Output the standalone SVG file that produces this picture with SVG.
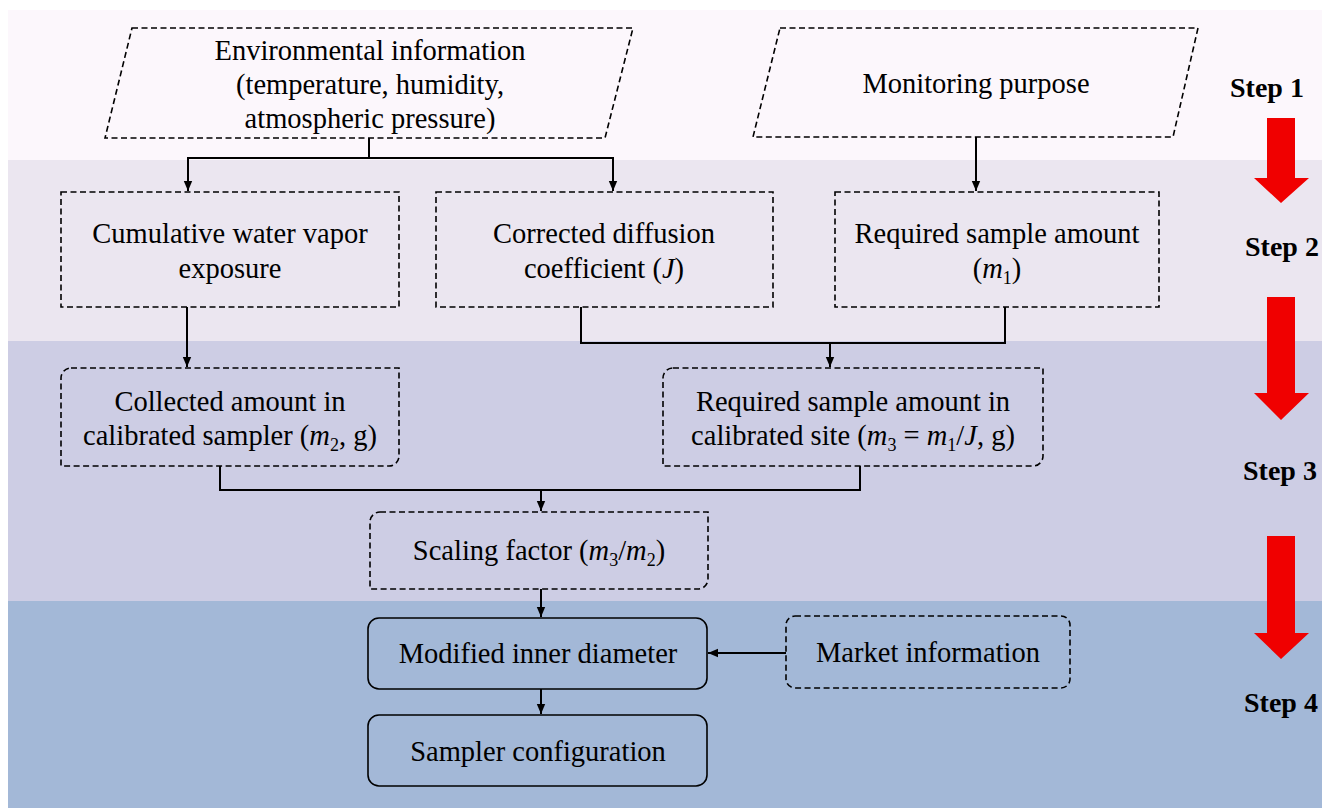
<svg xmlns="http://www.w3.org/2000/svg" width="1322" height="808" viewBox="0 0 1322 808">
<defs>
<marker id="ah" markerUnits="userSpaceOnUse" markerWidth="10" markerHeight="10" refX="10" refY="5" orient="auto">
<path d="M0,0.8 L10,5 L0,9.2 Z" fill="#000"/>
</marker>
<style>
.t{font-family:"Liberation Serif","Times New Roman",serif;font-size:28.5px;fill:#000;text-anchor:middle}
.st{font-family:"Liberation Serif","Times New Roman",serif;font-size:28px;font-weight:bold;fill:#000}
.d{fill:none;stroke:#000;stroke-width:1.6;stroke-dasharray:6 3.5}
.s{fill:none;stroke:#000;stroke-width:1.6}
.c{fill:none;stroke:#000;stroke-width:2}
.ca{fill:none;stroke:#000;stroke-width:2;marker-end:url(#ah)}
.i{font-style:italic}
.red{fill:#F00000}
</style>
</defs>
<rect width="1322" height="808" fill="#fff"/>
<g id="bands">
<rect x="8" y="10" width="1314" height="150" fill="#FCF7FC"/>
<rect x="8" y="160" width="1314" height="181" fill="#EBE6F0"/>
<rect x="8" y="341" width="1314" height="260" fill="#CDCDE4"/>
<rect x="8" y="601" width="1314" height="207" fill="#A3B8D7"/>
</g>
<g id="connectors">
<path class="c" d="M369,138 V158 M188,158 H613"/>
<path class="ca" d="M188,157 V191"/>
<path class="ca" d="M613,157 V191"/>
<path class="ca" d="M976,137 V191"/>
<path class="ca" d="M187,307 V367"/>
<path class="c" d="M581,307 V343 H1005 V307"/>
<path class="ca" d="M830,343 V367"/>
<path class="c" d="M220,466 V490 H860 V466"/>
<path class="ca" d="M541,490 V511"/>
<path class="ca" d="M541,589 V617"/>
<path class="ca" d="M786,653 H708"/>
<path class="ca" d="M541,689 V714"/>
</g>
<g id="env">
<path class="d" d="M132,28 L633,28 L605,138 L105,138 Z"/>
<text class="t" x="370" y="60">Environmental information</text>
<text class="t" x="370" y="94">(temperature, humidity,</text>
<text class="t" x="370" y="128">atmospheric pressure)</text>
</g>
<g id="purpose">
<path class="d" d="M780,28 L1198,28 L1173,137 L753,137 Z"/>
<text class="t" x="976" y="93">Monitoring purpose</text>
</g>
<g id="cumulative">
<rect class="d" x="61" y="192" width="338" height="115"/>
<text class="t" x="230" y="243">Cumulative water vapor</text>
<text class="t" x="230" y="278">exposure</text>
</g>
<g id="corrected">
<rect class="d" x="436" y="192" width="337" height="115"/>
<text class="t" x="604" y="243">Corrected diffusion</text>
<text class="t" x="604" y="278">coefficient (<tspan class="i">J</tspan>)</text>
</g>
<g id="required">
<rect class="d" x="835" y="192" width="324" height="115"/>
<text class="t" x="997" y="243">Required sample amount</text>
<text class="t" x="997" y="278">(<tspan class="i">m</tspan><tspan font-size="18" dy="6">1</tspan><tspan dy="-6">)</tspan></text>
</g>
<g id="collected">
<path class="d" d="M71,368 H399 V456 A10,10 0 0 1 389,466 H61 V378 A10,10 0 0 1 71,368 Z"/>
<text class="t" x="230" y="411">Collected amount in</text>
<text class="t" x="230" y="445">calibrated sampler (<tspan class="i">m</tspan><tspan font-size="18" dy="6">2</tspan><tspan dy="-6">, g)</tspan></text>
</g>
<g id="required-site">
<path class="d" d="M673,368 H1043 V456 A10,10 0 0 1 1033,466 H663 V378 A10,10 0 0 1 673,368 Z"/>
<text class="t" x="853" y="411">Required sample amount in</text>
<text class="t" x="853" y="445">calibrated site (<tspan class="i">m</tspan><tspan font-size="18" dy="6">3</tspan><tspan dy="-6"> = </tspan><tspan class="i">m</tspan><tspan font-size="18" dy="6">1</tspan><tspan dy="-6">/</tspan><tspan class="i">J</tspan>, g)</text>
</g>
<g id="scaling">
<path class="d" d="M380,512 H708 V579 A10,10 0 0 1 698,589 H370 V522 A10,10 0 0 1 380,512 Z"/>
<text class="t" x="539" y="560">Scaling factor (<tspan class="i">m</tspan><tspan font-size="18" dy="6">3</tspan><tspan dy="-6">/</tspan><tspan class="i">m</tspan><tspan font-size="18" dy="6">2</tspan><tspan dy="-6">)</tspan></text>
</g>
<g id="modified">
<rect class="s" x="368" y="618" width="339" height="71" rx="11"/>
<text class="t" x="538" y="663">Modified inner diameter</text>
</g>
<g id="market">
<rect class="d" x="786" y="616" width="284" height="72" rx="9"/>
<text class="t" x="928" y="662">Market information</text>
</g>
<g id="sampler">
<rect class="s" x="368" y="715" width="339" height="71" rx="11"/>
<text class="t" x="538" y="761">Sampler configuration</text>
</g>
<g id="steps">
<text class="st" x="1230" y="97">Step 1</text>
<path class="red" d="M1267,118 H1295 V178 H1309 L1281,203 L1254,178 H1267 Z"/>
<text class="st" x="1245" y="256">Step 2</text>
<path class="red" d="M1267,297 H1295 V393 H1309 L1281,420 L1254,393 H1267 Z"/>
<text class="st" x="1243" y="480">Step 3</text>
<path class="red" d="M1267,536 H1295 V633 H1309 L1281,659 L1254,633 H1267 Z"/>
<text class="st" x="1244" y="712">Step 4</text>
</g>
</svg>
